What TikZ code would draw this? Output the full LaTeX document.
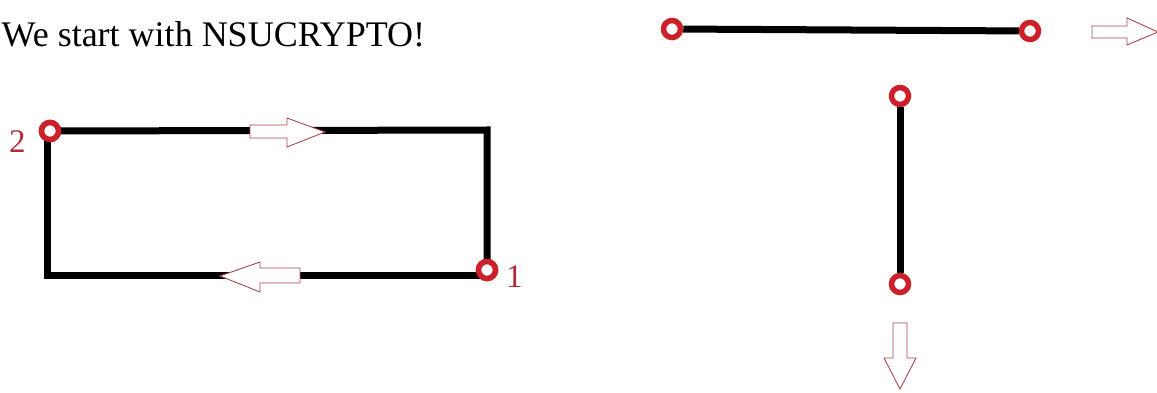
\documentclass[tikz,border=0pt]{standalone}
\usepackage{fontspec}
\setmainfont{Liberation Serif}
\definecolor{ringred}{RGB}{205,32,42}
\definecolor{labred}{RGB}{175,45,55}
\definecolor{arrred}{RGB}{170,70,80}
\tikzset{
  ring/.style={circle, draw=ringred, line width=5.5pt, fill=white, inner sep=0pt, minimum size=17pt},
  wire/.style={line width=7pt, black},
  hollow/.style={draw=arrred, line width=0.9pt, fill=white, line join=miter},
  lab/.style={text=labred, font=\fontsize{33}{36}\selectfont, inner sep=0pt}
}
\begin{document}
\begin{tikzpicture}[x=1pt,y=-1pt]
\useasboundingbox[fill=white] (0,0) rectangle (1157,393);
% title
\node[anchor=base west, inner sep=0pt, font=\fontsize{36}{40}\selectfont] (title) at (1.5,47) {We start with NSUCRYPTO!};
% rectangle loop
\node[ring] (n2) at (50,131) {};
\node[ring] (n1) at (487,270) {};
\coordinate (tr) at (487,130);
\coordinate (bl) at (47,275);
\coordinate (br) at (487,275);
\draw[wire] (n2.center) -- (tr) -- (n1.center);
\draw[wire] (br) -- (bl) -- (47,128);
\node[ring] at (n2) {};
\node[ring] at (n1) {};
\node[lab, anchor=base west] (l2) at (9,153) {2};
\node[lab, anchor=base west] (l1) at (506,287) {1};
% loop arrows
\draw[hollow] (250,125) -- (287,125) -- (287,118) -- (325,132) -- (287,147) -- (287,138) -- (250,138) -- cycle;
\draw[hollow] (300,268) -- (260,268) -- (260,262) -- (220,276) -- (260,292) -- (260,283) -- (300,283) -- cycle;
% horizontal segment
\node[ring] (h1) at (672,29) {};
\node[ring] (h2) at (1030,31) {};
\draw[wire] (h1) -- (h2);
\draw[hollow] (1092,26) -- (1127,26) -- (1127,18) -- (1158,32) -- (1127,45) -- (1127,38) -- (1092,38) -- cycle;
% vertical segment
\node[ring] (v1) at (900,96) {};
\node[ring] (v2) at (900,284) {};
\draw[wire] (v1) -- (v2);
\draw[hollow] (893,323) -- (907,323) -- (907,358) -- (916,358) -- (900,389) -- (884,358) -- (893,358) -- cycle;
\end{tikzpicture}
\end{document}
